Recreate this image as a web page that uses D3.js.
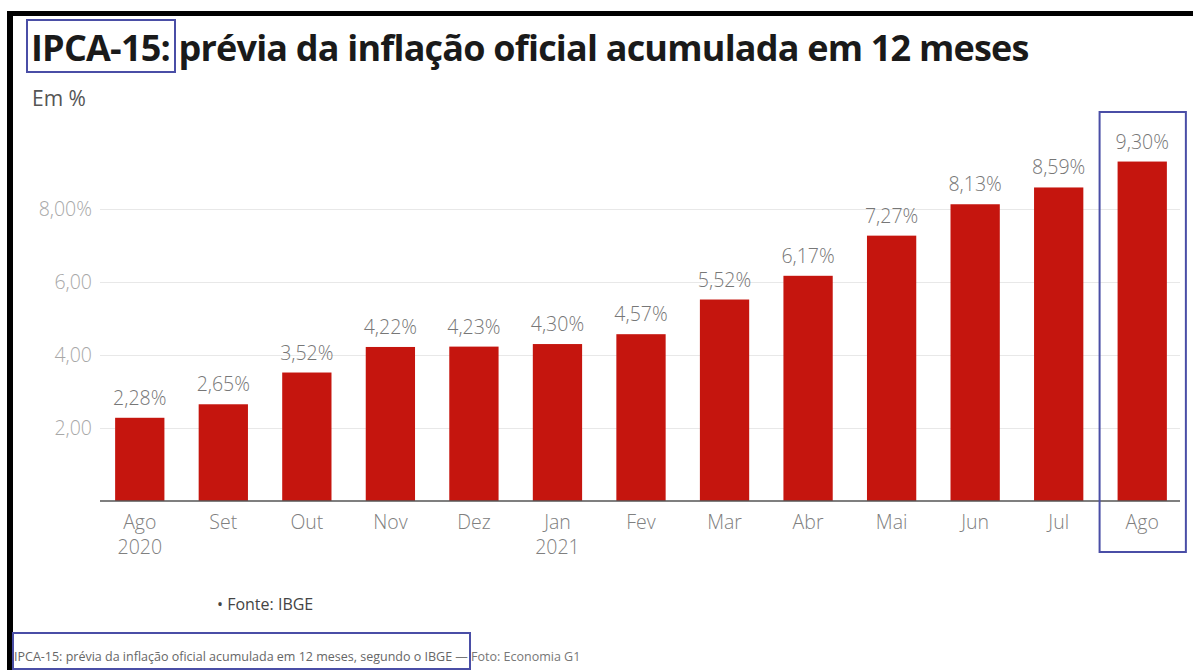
<!DOCTYPE html>
<html>
<head>
<meta charset="utf-8">
<script src="https://cdn.jsdelivr.net/npm/d3@7"></script>
<style>
  body { margin: 0; background: #fff; }
  svg { display: block; font-family: "Open Sans", sans-serif; }
</style>
</head>
<body>
<div class="chart"></div>
<script>
const width = 1193;
const height = 670;

// DATA //
const months = ["Ago", "Set", "Out", "Nov", "Dez", "Jan", "Fev", "Mar", "Abr", "Mai", "Jun", "Jul", "Ago2"];
const monthLabels = ["Ago", "Set", "Out", "Nov", "Dez", "Jan", "Fev", "Mar", "Abr", "Mai", "Jun", "Jul", "Ago"];
const yearLabels = ["2020", "", "", "", "", "2021", "", "", "", "", "", "", ""];
const ipca = [2.28, 2.65, 3.52, 4.22, 4.23, 4.30, 4.57, 5.52, 6.17, 7.27, 8.13, 8.59, 9.30];
const yTicks = [2, 4, 6, 8];

const fmt = v => v.toFixed(2).replace(".", ",");

const svg = d3.select(".chart")
    .append("svg")
    .attr("width", width)
    .attr("height", height)
    .attr("viewBox", [0, 0, width, height]);

// frame (black strokes top and left)
svg.append("rect").attr("x", 7).attr("y", 11).attr("width", width).attr("height", 5).attr("fill", "#000");
svg.append("rect").attr("x", 7).attr("y", 11).attr("width", 6).attr("height", height).attr("fill", "#000");

// title
svg.append("text")
    .attr("x", 31).attr("y", 61)
    .attr("font-size", 36)
    .attr("font-weight", 700)
    .attr("fill", "#1a1a1a")
    .attr("letter-spacing", -0.8)
    .text("IPCA-15: prévia da inflação oficial acumulada em 12 meses");

svg.append("rect")
    .attr("x", 27).attr("y", 20).attr("width", 148).attr("height", 52)
    .attr("fill", "none").attr("stroke", "#4a4ea6").attr("stroke-width", 2);

svg.append("text")
    .attr("x", 32).attr("y", 106)
    .attr("font-size", 21)
    .attr("fill", "#555")
    .text("Em %");

// SCALES //
const x = d3.scaleBand()
    .domain(months)
    .range([98, 1184])
    .paddingInner(0.41)
    .paddingOuter(0.205);

const y = d3.scaleLinear()
    .domain([0, 8])
    .range([501, 209]);

// grid + y labels
const yAxis = svg.append("g")
    .attr("transform", "translate(100,0)")
    .call(d3.axisLeft(y).tickValues(yTicks).tickSize(-1080).tickPadding(8)
        .tickFormat(d => d === 8 ? fmt(d) + "%" : fmt(d)));
yAxis.select(".domain").remove();
yAxis.selectAll(".tick line").attr("stroke", "#e8e8e8");
yAxis.selectAll(".tick text")
    .attr("font-size", 19.5)
    .attr("font-weight", 300)
    .attr("fill", "#a8a8a8")
    .attr("font-family", "Open Sans, sans-serif");

// bars
svg.append("g")
    .selectAll("rect")
    .data(ipca)
    .join("rect")
    .attr("x", (d, i) => x(months[i]))
    .attr("y", d => y(d))
    .attr("width", x.bandwidth())
    .attr("height", d => y(0) - y(d))
    .attr("fill", "#c5150e");

// value labels
svg.append("g")
    .selectAll("text")
    .data(ipca)
    .join("text")
    .attr("x", (d, i) => x(months[i]) + x.bandwidth() / 2)
    .attr("y", d => y(d) - 13)
    .attr("text-anchor", "middle")
    .attr("font-size", 19.5)
    .attr("font-weight", 300)
    .attr("fill", "#777")
    .text(d => fmt(d) + "%");

// baseline
svg.append("line")
    .attr("x1", 100).attr("x2", 1180)
    .attr("y1", y(0)).attr("y2", y(0))
    .attr("stroke", "#555").attr("stroke-width", 1.5);

// x labels
const xAxis = svg.append("g")
    .attr("transform", `translate(0,${y(0)})`)
    .call(d3.axisBottom(x).tickSize(0).tickPadding(14).tickFormat((d, i) => monthLabels[i]));
xAxis.select(".domain").remove();
xAxis.selectAll(".tick text")
    .attr("font-size", 19.5)
    .attr("font-weight", 300)
    .attr("fill", "#808080")
    .attr("font-family", "Open Sans, sans-serif")
    .each(function(d, i) {
        if (yearLabels[i]) {
            d3.select(this).append("tspan")
                .attr("x", 0).attr("dy", "1.3em")
                .text(yearLabels[i]);
        }
    });

// highlight box on last month
const last = months[months.length - 1];
svg.append("rect")
    .attr("x", x(last) - 18).attr("y", 112)
    .attr("width", x.bandwidth() + 37).attr("height", 440)
    .attr("fill", "none").attr("stroke", "#4a4ea6").attr("stroke-width", 2);

// source
svg.append("text")
    .attr("x", 217).attr("y", 610)
    .attr("font-size", 16)
    .attr("fill", "#444")
    .text("• Fonte: IBGE");

// caption
const cap = svg.append("text")
    .attr("x", 14).attr("y", 661)
    .attr("font-size", 12.5)
    .attr("fill", "#666");
cap.append("tspan").text("IPCA-15: prévia da inflação oficial acumulada em 12 meses, segundo o IBGE");
cap.append("tspan").attr("fill", "#777").text(" — Foto: Economia G1");

svg.append("rect")
    .attr("x", 13).attr("y", 633).attr("width", 457).attr("height", 36)
    .attr("fill", "none").attr("stroke", "#4a4ea6").attr("stroke-width", 2);
</script>
</body>
</html>
